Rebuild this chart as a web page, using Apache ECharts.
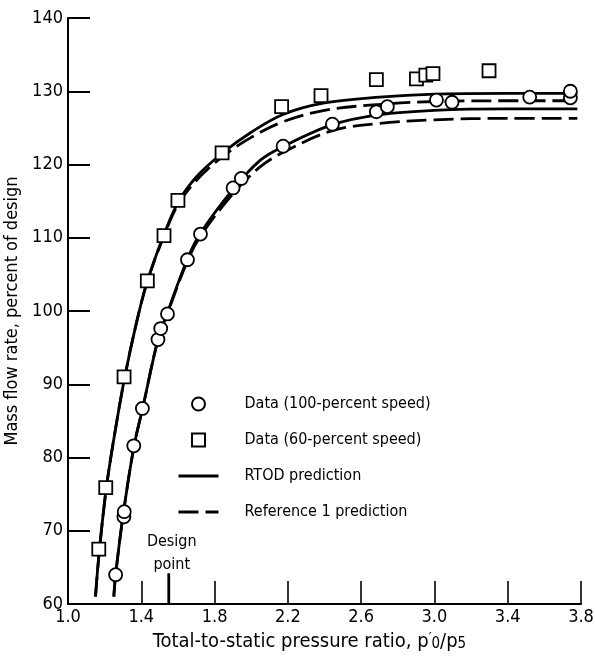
<!DOCTYPE html>
<html>
<head>
<meta charset="utf-8">
<script src="https://cdn.jsdelivr.net/npm/echarts@6/dist/echarts.min.js"></script>
<style>
html,body{margin:0;padding:0;background:#fff;}
#c{width:595px;height:658px;}
</style>
</head>
<body>
<div id="c"></div>
<script>
// ---- data ----
var xTicks = [1.0, 1.4, 1.8, 2.2, 2.6, 3.0, 3.4, 3.8];
var yTicks = [60, 70, 80, 90, 100, 110, 120, 130, 140];

var data100 = [[1.26,64.0],[1.305,71.9],[1.307,72.6],[1.359,81.6],[1.406,86.7],[1.491,96.1],[1.506,97.6],[1.543,99.6],[1.652,107.0],[1.723,110.5],[1.901,116.8],[1.946,118.1],[2.174,122.5],[2.443,125.5],[2.683,127.2],[2.743,127.9],[3.011,128.8],[3.096,128.5],[3.52,129.2],[3.742,129.1],[3.742,130.0]];
var data60 = [[1.168,67.5],[1.206,75.9],[1.306,91.0],[1.433,104.1],[1.524,110.3],[1.600,115.1],[1.841,121.6],[2.166,127.9],[2.381,129.4],[2.683,131.6],[2.902,131.7],[2.953,132.2],[2.992,132.4],[3.298,132.8]];

var rtod60 = [[1.15,61],[1.17,67],[1.21,76],[1.26,84],[1.31,91],[1.37,98],[1.43,103.8],[1.52,110.2],[1.60,114.8],[1.70,118.3],[1.84,121.5],[2.0,124.4],[2.17,126.8],[2.4,128.4],[2.7,129.2],[3.0,129.6],[3.4,129.7],[3.78,129.7]];
var ref60 = [[1.15,61],[1.17,67],[1.21,76],[1.26,84],[1.31,91],[1.37,98],[1.43,103.8],[1.52,110.0],[1.60,114.5],[1.70,117.8],[1.84,121.0],[2.0,123.7],[2.17,125.8],[2.4,127.4],[2.7,128.2],[3.0,128.6],[3.4,128.7],[3.78,128.7]];
var rtod100 = [[1.25,61],[1.26,64],[1.30,72],[1.36,81.5],[1.41,87],[1.49,96],[1.54,99.6],[1.65,107],[1.72,110.5],[1.9,116.6],[2.05,120.6],[2.17,122.4],[2.44,125.4],[2.7,126.8],[3.0,127.4],[3.4,127.6],[3.78,127.6]];
var ref100 = [[1.25,61],[1.26,64],[1.30,72],[1.36,81.5],[1.41,87],[1.49,96],[1.54,99.5],[1.65,106.7],[1.72,110.1],[1.9,116.0],[2.05,119.7],[2.17,121.6],[2.44,124.6],[2.7,125.6],[3.0,126.1],[3.4,126.3],[3.78,126.3]];

var designTick = [[1.55,60],[1.55,64.2]];
var designLabel = 'Design\npoint';

var names = ['Data (100-percent speed)','Data (60-percent speed)','RTOD prediction','Reference 1 prediction'];

var FONT = '"DejaVu Sans Condensed","Liberation Sans",sans-serif';

var chart = echarts.init(document.getElementById('c'), null, {renderer:'canvas'});

function curve(name, data, dashed){
  return {
    name: name, type:'line', data: data, symbol:'none', showSymbol:false, smooth:0.35,
    lineStyle:{color:'#000', width:2.8, type: dashed ? [20,7] : 'solid'},
    itemStyle:{color:'#000'}, z:2, silent:true, animation:false
  };
}

var option = {
  backgroundColor:'#fff',
  animation:false,
  textStyle:{fontFamily:FONT, color:'#000'},
  grid:{left:68, right:14, top:18, bottom:54, containLabel:false, outerBoundsMode:'none'},
  legend:{
    data:[
      {name:names[0]},
      {name:names[1], icon:'path://M0,0L10,0L10,10L0,10Z'},
      {name:names[2], itemStyle:{opacity:0}},
      {name:names[3], itemStyle:{opacity:0}}
    ],
    orient:'vertical', left:177, top:396, padding:0,
    itemWidth:40, itemHeight:13, itemGap:20, selectedMode:false, symbolKeepAspect:true,
    lineStyle:{width:3},
    textStyle:{fontFamily:FONT, fontSize:16, lineHeight:13, color:'#000', padding:[0,0,0,21]}
  },
  xAxis:{
    type:'value', min:1.0, max:3.8,
    name:'Total-to-static pressure ratio, p{sup|′}{sub|0}/p{sub|5}{pad| }',
    nameLocation:'middle', nameGap:23,
    nameTextStyle:{fontFamily:FONT, fontSize:20, color:'#000',
      rich:{sup:{fontSize:14, verticalAlign:'top', padding:[0,0,6,0], fontFamily:FONT},
            sub:{fontSize:15, verticalAlign:'bottom', padding:[6,0,0,0], fontFamily:FONT},
            pad:{width:30}}},
    axisLine:{show:true, onZero:false, lineStyle:{color:'#000', width:2}},
    axisTick:{show:true, inside:true, length:23, customValues:xTicks, lineStyle:{color:'#000', width:1.6}},
    axisLabel:{customValues:xTicks, margin:4, fontSize:18, color:'#000', fontFamily:FONT,
      formatter:function(v){return v.toFixed(1);}},
    splitLine:{show:false}
  },
  yAxis:{
    type:'value', min:60, max:140, interval:10,
    name:'Mass flow rate, percent of design',
    nameLocation:'middle', nameGap:42,
    nameTextStyle:{fontFamily:FONT, fontSize:18, color:'#000'},
    axisLine:{show:true, onZero:false, lineStyle:{color:'#000', width:2}},
    axisTick:{show:true, inside:true, length:22, customValues:yTicks, lineStyle:{color:'#000', width:2}},
    axisLabel:{customValues:yTicks, margin:5, fontSize:18, color:'#000', fontFamily:FONT},
    splitLine:{show:false}
  },
  series:[
    curve(names[2], rtod60, false),
    curve(names[3], ref60, true),
    curve(names[2], rtod100, false),
    curve(names[3], ref100, true),
    {
      name:'design', type:'line', data:designTick, symbol:'none',
      lineStyle:{color:'#000', width:2.8}, silent:true, z:2
    },
    {
      name:'designLabel', type:'scatter', data:[designTick[1]], symbolSize:0.1,
      itemStyle:{color:'#000', opacity:1}, silent:true,
      label:{show:true, position:'top', distance:0, offset:[3,3], formatter:designLabel,
        fontFamily:FONT, fontSize:16, lineHeight:23, color:'#000', opacity:1, align:'center'}
    },
    {
      name:names[0], type:'scatter', data:data100, symbol:'circle', symbolSize:13,
      itemStyle:{color:'#fff', borderColor:'#000', borderWidth:1.8, opacity:1}, z:5
    },
    {
      name:names[1], type:'scatter', data:data60, symbol:'rect', symbolSize:13,
      itemStyle:{color:'#fff', borderColor:'#000', borderWidth:1.8, opacity:1}, z:5
    }
  ]
};
chart.setOption(option);
</script>
</body>
</html>
